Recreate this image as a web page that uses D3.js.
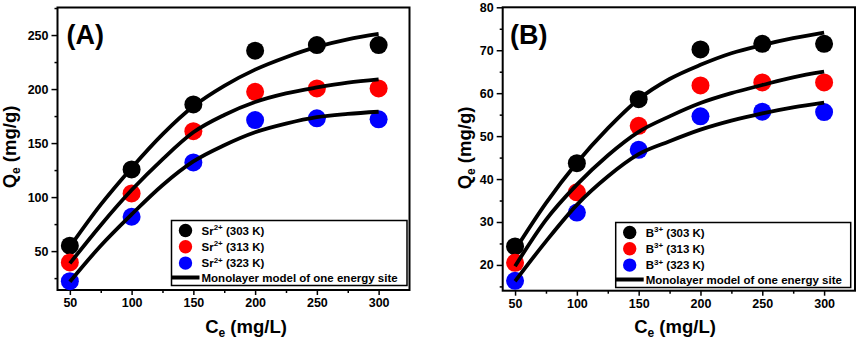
<!DOCTYPE html>
<html>
<head>
<meta charset="utf-8">
<script src="https://cdn.jsdelivr.net/npm/d3@7"></script>
<style>
  html, body { margin: 0; padding: 0; background: #fff; }
  svg { display: block; font-family: "Liberation Sans", Arial, sans-serif; }
</style>
</head>
<body>
<div id="chart"></div>
<script>
// measured points (Ce, mg/L)
const ceValues = [50, 100, 150, 200, 250, 300];
const tempLabels = ['303 K', '313 K', '323 K'];
const seriesColors = ['#000000', '#ff0000', '#0000ff'];

// Sr2+ uptake, Qe (mg/g)
const srQe303 = [55, 125.6, 185.8, 235.5, 240.7, 240.7];
const srQe313 = [39.5, 103.4, 161, 197.5, 200.6, 200.6];
const srQe323 = [22.2, 81.8, 132.1, 171.3, 172.9, 172];

// B3+ uptake, Qe (mg/g)
const bQe303 = [24.3, 43.7, 58.6, 70.2, 71.5, 71.5];
const bQe313 = [20.5, 36.9, 52.4, 61.8, 62.5, 62.5];
const bQe323 = [16.3, 32.2, 46.8, 54.6, 55.7, 55.6];

// monolayer model curves
const fitCe = [50, 75, 100, 125, 150, 175, 200, 225, 250, 275, 300];
const srFit303 = [54, 93, 127, 158, 184, 203, 218, 229.5, 239, 246, 251];
const srFit313 = [38.6, 74, 106.5, 135, 160, 176, 188, 196, 201.5, 206, 209];
const srFit323 = [21.6, 55, 84, 111, 133, 148, 160, 168, 174, 177, 179];
const bFit303 = [23.5, 34.4, 43.8, 51.8, 58.6, 63.3, 66.6, 69.3, 71.2, 72.8, 74.1];
const bFit313 = [19.7, 30.5, 38.7, 45.5, 51, 54.6, 57.7, 60, 61.9, 63.7, 65];
const bFit323 = [16.2, 25.5, 34, 40.6, 45.8, 48.8, 51.5, 53.6, 55.3, 56.7, 57.8];

// axis ticks
const xTicks = [50, 100, 150, 200, 250, 300];
const xMinor = [75, 125, 175, 225, 275];
const srYTicks = [50, 100, 150, 200, 250];
const srYMinor = [25, 75, 125, 175, 225, 275];
const bYTicks = [20, 30, 40, 50, 60, 70, 80];
const bYMinor = [15, 25, 35, 45, 55, 65, 75];

const width = 858, height = 343;

const svg = d3.select('#chart').append('svg')
    .attr('width', width)
    .attr('height', height);

function drawPanel(cfg) {
    const x = d3.scaleLinear().domain([40, 325]).range([cfg.left, cfg.right]);
    const y = d3.scaleLinear().domain(cfg.yDomain).range([cfg.bottom, cfg.top]);
    const g = svg.append('g');

    // axes (Origin style: outward ticks left and bottom)
    const xAxis = g.append('g')
        .attr('transform', `translate(0,${cfg.bottom})`)
        .call(d3.axisBottom(x).tickValues(xTicks).tickSize(5).tickPadding(3).tickFormat(d3.format('d')));
    g.append('g')
        .attr('transform', `translate(0,${cfg.bottom})`)
        .call(d3.axisBottom(x).tickValues(xMinor).tickSize(3).tickFormat(''));
    const yAxis = g.append('g')
        .attr('transform', `translate(${cfg.left},0)`)
        .call(d3.axisLeft(y).tickValues(cfg.yTicks).tickSize(6).tickPadding(3).tickFormat(d3.format('d')));
    g.append('g')
        .attr('transform', `translate(${cfg.left},0)`)
        .call(d3.axisLeft(y).tickValues(cfg.yMinor).tickSize(3).tickFormat(''));

    g.selectAll('.domain').remove();
    g.selectAll('.tick line').attr('stroke', '#000').attr('stroke-width', 1.5);
    g.selectAll('.tick text')
        .attr('fill', '#000')
        .style('font-size', '12.5px')
        .style('font-weight', 'bold');

    // frame
    g.append('rect')
        .attr('x', cfg.left)
        .attr('y', cfg.top)
        .attr('width', cfg.right - cfg.left)
        .attr('height', cfg.bottom - cfg.top)
        .attr('fill', 'none')
        .attr('stroke', '#000')
        .attr('stroke-width', 2);

    // scatter points
    cfg.points.forEach((vals, i) => {
        g.append('g').selectAll('circle')
            .data(vals.map((v, j) => [ceValues[j], v]))
            .enter()
            .append('circle')
            .attr('cx', d => x(d[0]))
            .attr('cy', d => y(d[1]))
            .attr('r', 9)
            .attr('fill', seriesColors[i]);
    });

    // model curves on top of the points
    const line = d3.line()
        .x(d => x(d[0]))
        .y(d => y(d[1]))
        .curve(d3.curveMonotoneX);
    cfg.fits.forEach(vals => {
        g.append('path')
            .datum(vals.map((v, j) => [fitCe[j], v]))
            .attr('d', line)
            .attr('fill', 'none')
            .attr('stroke', '#000')
            .attr('stroke-width', 3.8);
    });

    // panel label
    g.append('text')
        .attr('x', cfg.labelX)
        .attr('y', 44)
        .style('font-size', '27px')
        .style('font-weight', 'bold')
        .text(cfg.label);

    // axis titles
    const xt = g.append('text')
        .attr('x', cfg.xTitleX)
        .attr('y', 333)
        .attr('text-anchor', 'middle')
        .style('font-size', '18.5px')
        .style('font-weight', 'bold');
    xt.append('tspan').text('C');
    xt.append('tspan').attr('dy', 4).style('font-size', '12px').text('e');
    xt.append('tspan').attr('dy', -4).text(' (mg/L)');

    const yt = g.append('text')
        .attr('transform', `translate(${cfg.yTitleX},${cfg.yTitleY}) rotate(-90)`)
        .attr('text-anchor', 'middle')
        .style('font-size', '18.5px')
        .style('font-weight', 'bold');
    yt.append('tspan').text('Q');
    yt.append('tspan').attr('dy', 4).style('font-size', '12px').text('e');
    yt.append('tspan').attr('dy', -4).text(' (mg/g)');

    // legend
    const lg = g.append('g').attr('transform', `translate(${cfg.legendX},${cfg.legendY})`);
    lg.append('rect')
        .attr('width', cfg.legendW)
        .attr('height', 65)
        .attr('fill', '#fff')
        .attr('stroke', '#000')
        .attr('stroke-width', 1.5);
    tempLabels.forEach((t, i) => {
        const cy = 10 + i * 16.3;
        lg.append('circle')
            .attr('cx', 14)
            .attr('cy', cy)
            .attr('r', 6.7)
            .attr('fill', seriesColors[i]);
        const tx = lg.append('text')
            .attr('x', 30)
            .attr('y', cy + 4)
            .style('font-size', '11.5px')
            .style('font-weight', 'bold');
        tx.append('tspan').text(cfg.ion);
        tx.append('tspan').attr('dy', -4.5).style('font-size', '8px').text(cfg.charge);
        tx.append('tspan').attr('dy', 4.5).text(` (${t})`);
    });
    lg.append('line')
        .attr('x1', 0).attr('x2', 28)
        .attr('y1', 57).attr('y2', 57)
        .attr('stroke', '#000')
        .attr('stroke-width', 4);
    lg.append('text')
        .attr('x', 30)
        .attr('y', 61)
        .style('font-size', '11.5px')
        .style('font-weight', 'bold')
        .text('Monolayer model of one energy site');
}

drawPanel({
    left: 57.5, right: 409.5, top: 7.5, bottom: 290,
    yDomain: [14, 275.5], yTicks: srYTicks, yMinor: srYMinor,
    points: [srQe303, srQe313, srQe323],
    fits: [srFit303, srFit313, srFit323],
    label: '(A)', labelX: 66.5,
    xTitleX: 246, yTitleX: 16, yTitleY: 147,
    legendX: 171.5, legendY: 220.5, legendW: 235.5,
    ion: 'Sr', charge: '2+'
});

drawPanel({
    left: 502.7, right: 855, top: 7.3, bottom: 290.7,
    yDomain: [14, 80], yTicks: bYTicks, yMinor: bYMinor,
    points: [bQe303, bQe313, bQe323],
    fits: [bFit303, bFit313, bFit323],
    label: '(B)', labelX: 510,
    xTitleX: 675, yTitleX: 471, yTitleY: 148,
    legendX: 615.7, legendY: 222.5, legendW: 235,
    ion: 'B', charge: '3+'
});
</script>
</body>
</html>
